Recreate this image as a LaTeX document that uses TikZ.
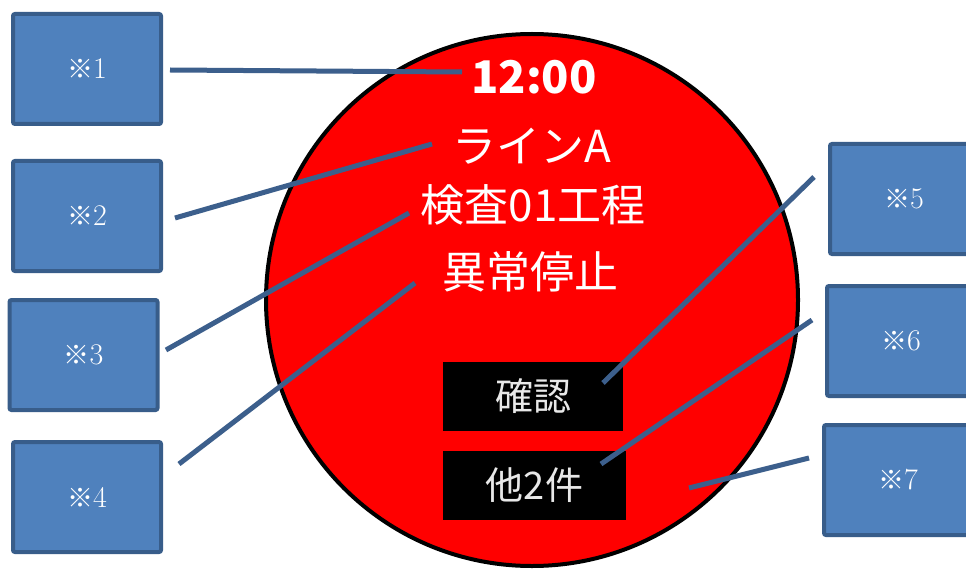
\documentclass[tikz,border=0pt]{standalone}
\usepackage{fontspec}
\newfontfamily\jp{Noto Sans CJK JP}
\definecolor{boxfill}{HTML}{4F81BD}
\definecolor{boxline}{HTML}{385D8A}
\definecolor{linecol}{HTML}{3C5F8C}
\definecolor{btntext}{HTML}{E8E8E8}
\newcommand{\kome}[1]{\raisebox{-3pt}{{\jp\fontsize{26}{26}\selectfont ※}#1}}
\begin{document}
\begin{tikzpicture}[x=1pt,y=-1pt,
  callout/.style={draw=boxline, fill=boxfill, line width=4pt, rounded corners=2pt,
    minimum width=148pt, minimum height=110pt, inner sep=0pt, text=white,
    font=\fontsize{30}{30}\selectfont},
  leader/.style={draw=linecol, line width=5pt},
  screentext/.style={text=white, inner sep=0pt, font=\jp\fontsize{44}{44}\selectfont},
  button/.style={fill=black, inner sep=0pt, text=btntext, font=\jp\fontsize{38}{38}\selectfont}
]
\clip (0,0) rectangle (966,572);
\fill[white] (0,0) rectangle (966,572);

% display
\node (disp) [circle, draw=black, fill=red, line width=4pt, minimum size=532pt, inner sep=0pt] at (532,300) {};

% screen texts
\node (time) [screentext, font=\jp\bfseries\fontsize{45}{45}\selectfont] at (534,77) {12:00};
\node (line) [screentext] at (532,146) {ラインA};
\node (proc) [screentext] at (533,205) {検査01工程};
\node (stat) [screentext] at (530,272) {異常停止};

% buttons
\node (ok) [button, minimum width=180pt, minimum height=69pt] at (533,396.5) {};
\node at (ok.center) [text=btntext, font=\jp\fontsize{38}{38}\selectfont] {確認};
\node (more) [button, minimum width=183pt, minimum height=69pt] at (534.5,485.5) {};
\node at (more.center) [text=btntext, font=\jp\fontsize{38}{38}\selectfont] {他2件};

% callout boxes
\node (b1) [callout] at (87,69)    {\kome{1}};
\node (b2) [callout] at (87,216)   {\kome{2}};
\node (b3) [callout] at (83.5,355) {\kome{3}};
\node (b4) [callout] at (87,497)   {\kome{4}};
\node (b5) [callout] at (904,199)  {\kome{5}};
\node (b6) [callout] at (901,341)  {\kome{6}};
\node (b7) [callout] at (898,480)  {\kome{7}};

% leader end points
\coordinate (s1) at (170,70);  \coordinate (e1) at (462,72);
\coordinate (s2) at (175,218); \coordinate (e2) at (432,144);
\coordinate (s3) at (166,350); \coordinate (e3) at (409,213);
\coordinate (s4) at (179,464); \coordinate (e4) at (415,283);
\coordinate (s5) at (814,177); \coordinate (e5) at (603,383);
\coordinate (s6) at (812,320); \coordinate (e6) at (601,464);
\coordinate (s7) at (809,458); \coordinate (e7) at (689,488);

\draw[leader] (s1) -- (e1);
\draw[leader] (s2) -- (e2);
\draw[leader] (s3) -- (e3);
\draw[leader] (s4) -- (e4);
\draw[leader] (s5) -- (e5);
\draw[leader] (s6) -- (e6);
\draw[leader] (s7) -- (e7);
\end{tikzpicture}
\end{document}
